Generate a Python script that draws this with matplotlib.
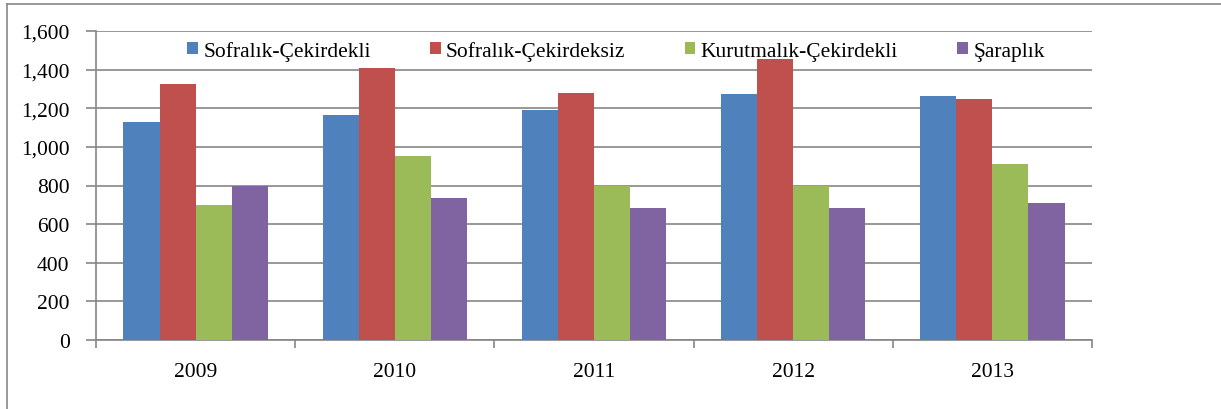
import numpy as np
import matplotlib.pyplot as plt
from matplotlib.lines import Line2D
from matplotlib.ticker import FuncFormatter, MultipleLocator, FixedLocator

# data
years = ['2009', '2010', '2011', '2012', '2013']
series_names = ['Sofralık-Çekirdekli', 'Sofralık-Çekirdeksiz', 'Kurutmalık-Çekirdekli', 'Şaraplık']
sofralik_cekirdekli = [1130, 1163, 1193, 1272, 1262]
sofralik_cekirdeksiz = [1325, 1406, 1277, 1453, 1248]
kurutmalik_cekirdekli = [700, 951, 798, 799, 911]
saraplik = [795, 733, 682, 682, 709]
colors = ['#4F81BD', '#C0504D', '#9BBB59', '#8064A2']

plt.rcParams['font.family'] = ['Liberation Serif', 'DejaVu Serif']
fs = 15.5

fig = plt.figure(figsize=(12.21, 4.10), dpi=100)
ax = fig.add_axes([96 / 1221, 1 - 341 / 410, (1092 - 96) / 1221, (341 - 32) / 410])

x = np.arange(len(years))
barWidth = 0.181
all_series = [sofralik_cekirdekli, sofralik_cekirdeksiz, kurutmalik_cekirdekli, saraplik]
for i, vals in enumerate(all_series):
    ax.bar(x + (i - 1.5) * barWidth, vals, width=barWidth, color=colors[i],
           label=series_names[i], zorder=3)

grid_col = '#868686'
ax.set_ylim(0, 1600)
ax.set_xlim(-0.5, len(years) - 0.5)
ax.yaxis.set_major_locator(MultipleLocator(200))
ax.yaxis.set_major_formatter(FuncFormatter(lambda v, p: f'{int(v):,}'))
ax.grid(axis='y', color=grid_col, linewidth=1.2, zorder=0)
ax.set_axisbelow(True)

ax.set_xticks(x)
ax.set_xticklabels(years)
ax.xaxis.set_minor_locator(FixedLocator(np.arange(-0.5, len(years), 1.0)))
ax.tick_params(axis='x', which='major', length=0, pad=16, labelsize=fs)
ax.tick_params(axis='x', which='minor', length=6, width=1.2, color=grid_col)
ax.tick_params(axis='y', length=7, width=1.2, color=grid_col, pad=12, labelsize=fs)

for s in ['top', 'right']:
    ax.spines[s].set_visible(False)
for s in ['left', 'bottom']:
    ax.spines[s].set_color(grid_col)
    ax.spines[s].set_linewidth(1.2)

fig.legend(loc='center', bbox_to_anchor=(616 / 1221, 1 - 52 / 410), ncol=4, frameon=False,
           fontsize=fs, handlelength=0.5, handleheight=0.5, handletextpad=0.25,
           columnspacing=2.75)

# outer chart border
fig.add_artist(Line2D([7 / 1221, 1], [1 - 5 / 410, 1 - 5 / 410], transform=fig.transFigure,
                      color=grid_col, linewidth=1.2))
fig.add_artist(Line2D([7 / 1221, 7 / 1221], [0, 1 - 5 / 410], transform=fig.transFigure,
                      color=grid_col, linewidth=1.2))

fig.savefig('out.png', dpi=100)
